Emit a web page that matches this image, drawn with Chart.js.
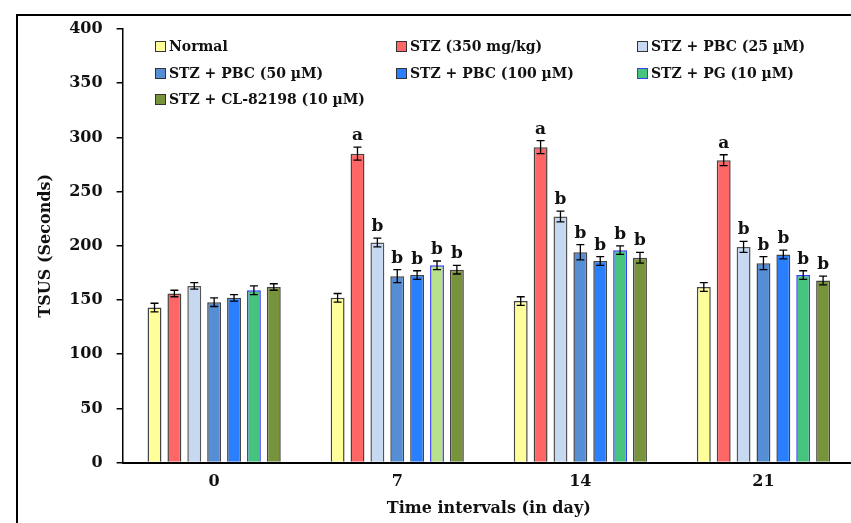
<!DOCTYPE html>
<html>
<head>
<meta charset="utf-8">
<script src="https://cdn.jsdelivr.net/npm/chart.js@4.4.0/dist/chart.umd.min.js"></script>
<style>
    html, body { margin: 0; padding: 0; background: #fff; overflow: hidden; }
    #wrap { position: relative; width: 855px; height: 523px; }
</style>
</head>
<body>
<div id="wrap"><canvas id="chart"></canvas></div>
<script>
// ---- data ----
const days = ['0', '7', '14', '21'];
const groupNames = ['Normal', 'STZ (350 mg/kg)', 'STZ + PBC (25 µM)', 'STZ + PBC (50 µM)',
    'STZ + PBC (100 µM)', 'STZ + PG (10 µM)', 'STZ + CL-82198 (10 µM)'];

const normal   = [143, 152, 149, 162];
const stz      = [156, 285, 291, 279];
const pbc25    = [163, 203, 227, 199];
const pbc50    = [148, 172, 194, 184];
const pbc100   = [152, 173, 186, 192];
const pg       = [159, 182, 196, 173];
const cl82198  = [162, 178, 189, 168];

const normalErr  = [4, 4, 4, 4];
const stzErr     = [3, 6, 6, 5];
const pbc25Err   = [3, 4, 5, 5];
const pbc50Err   = [4, 6, 7, 6];
const pbc100Err  = [3, 4, 4, 4];
const pgErr      = [4, 4, 4, 4];
const cl82198Err = [3, 4, 5, 4];

// significance letters per day
const normalSig  = ['', '', '', ''];
const stzSig     = ['', 'a', 'a', 'a'];
const treatSig   = ['', 'b', 'b', 'b'];

const fillColors = ['#ffff99', '#ff6666', '#c6d9f1', '#558ed5', '#2a7fff', '#46c47e', '#77933c'];
const edgeColors = ['#444444', '#444444', '#555555', '#444444', '#444444', '#3a3aff', '#444444'];

const serif = "'DejaVu Serif', serif";

const series = [normal, stz, pbc25, pbc50, pbc100, pg, cl82198];
const errors = [normalErr, stzErr, pbc25Err, pbc50Err, pbc100Err, pgErr, cl82198Err];
const letters = [normalSig, stzSig, treatSig, treatSig, treatSig, treatSig, treatSig];

const datasets = series.map((vals, i) => ({
    label: groupNames[i],
    data: vals,
    errors: errors[i],
    letters: letters[i],
    // PG bar at day 7 is drawn in a lighter green
    backgroundColor: i === 5 ? ['#46c47e', '#b9e08b', '#46c47e', '#46c47e'] : fillColors[i],
    borderColor: edgeColors[i],
    borderWidth: 1.5,
    barPercentage: 0.7,
    categoryPercentage: 0.76
}));

// error bars + letters
const errorBarPlugin = {
    id: 'errorBars',
    afterDatasetsDraw(chart) {
        const ctx = chart.ctx;
        const y = chart.scales.y;
        ctx.save();
        ctx.strokeStyle = '#000';
        ctx.lineWidth = 1.3;
        chart.data.datasets.forEach((ds, di) => {
            chart.getDatasetMeta(di).data.forEach((bar, j) => {
                const v = ds.data[j];
                const e = ds.errors[j];
                const top = y.getPixelForValue(v + e);
                const bot = y.getPixelForValue(v - e);
                ctx.beginPath();
                ctx.moveTo(bar.x, top); ctx.lineTo(bar.x, bot);
                ctx.moveTo(bar.x - 4, top); ctx.lineTo(bar.x + 4, top);
                ctx.moveTo(bar.x - 4, bot); ctx.lineTo(bar.x + 4, bot);
                ctx.stroke();
                if (ds.letters[j]) {
                    ctx.fillStyle = '#111';
                    ctx.font = `bold 17px ${serif}`;
                    ctx.textAlign = 'center';
                    ctx.textBaseline = 'bottom';
                    ctx.fillText(ds.letters[j], bar.x, top - 3);
                }
            });
        });
        ctx.restore();
    }
};

// three-column legend, frame
const legendPlugin = {
    id: 'gridLegend',
    beforeDraw(chart) {
        const ctx = chart.ctx;
        ctx.save();
        ctx.fillStyle = '#fff';
        ctx.fillRect(0, 0, chart.width, chart.height);
        ctx.strokeStyle = '#000';
        ctx.lineWidth = 2;
        ctx.strokeRect(17, 15, 900, 600);
        ctx.restore();
    },
    afterDraw(chart) {
        const ctx = chart.ctx;
        const cols = [155, 396, 637];
        const rows = [46, 73, 99];
        ctx.save();
        ctx.font = `bold 14px ${serif}`;
        ctx.textBaseline = 'middle';
        ctx.textAlign = 'left';
        groupNames.forEach((name, i) => {
            const x = cols[i % 3];
            const yy = rows[Math.floor(i / 3)];
            ctx.fillStyle = fillColors[i];
            ctx.fillRect(x, yy - 5, 10, 10);
            ctx.strokeStyle = i === 5 ? '#3a3aff' : '#333';
            ctx.lineWidth = 1;
            ctx.strokeRect(x + 0.5, yy - 4.5, 10, 10);
            ctx.fillStyle = '#111';
            ctx.fillText(name, x + 14, yy + 1);
        });
        ctx.restore();
    }
};

new Chart(document.getElementById('chart'), {
    type: 'bar',
    data: { labels: days, datasets: datasets },
    options: {
        responsive: true,
        maintainAspectRatio: false,
        animation: false,
        layout: { padding: { left: 32, top: 29, right: 0, bottom: 3 } },
        plugins: {
            legend: { display: false },
            tooltip: { enabled: false }
        },
        scales: {
            x: {
                grid: { display: false },
                border: { color: '#000', width: 2 },
                ticks: { color: '#111', font: { family: serif, size: 16, weight: 'bold' }, padding: 2 },
                title: {
                    display: true,
                    text: 'Time intervals (in day)',
                    color: '#111',
                    font: { family: serif, size: 16, weight: 'bold' },
                    padding: { top: 5, bottom: 2 }
                }
            },
            y: {
                min: 0,
                max: 400,
                ticks: { stepSize: 50, color: '#111', font: { family: serif, size: 16, weight: 'bold' }, padding: 14 },
                grid: { drawOnChartArea: false, drawTicks: true, tickLength: 6, color: '#000', lineWidth: 1.5 },
                border: { color: '#000', width: 1.5 },
                title: {
                    display: true,
                    text: 'TSUS (Seconds)',
                    color: '#111',
                    font: { family: serif, size: 16, weight: 'bold' },
                    padding: { top: 4, bottom: 0 }
                }
            }
        }
    },
    plugins: [legendPlugin, errorBarPlugin]
});
</script>
</body>
</html>
